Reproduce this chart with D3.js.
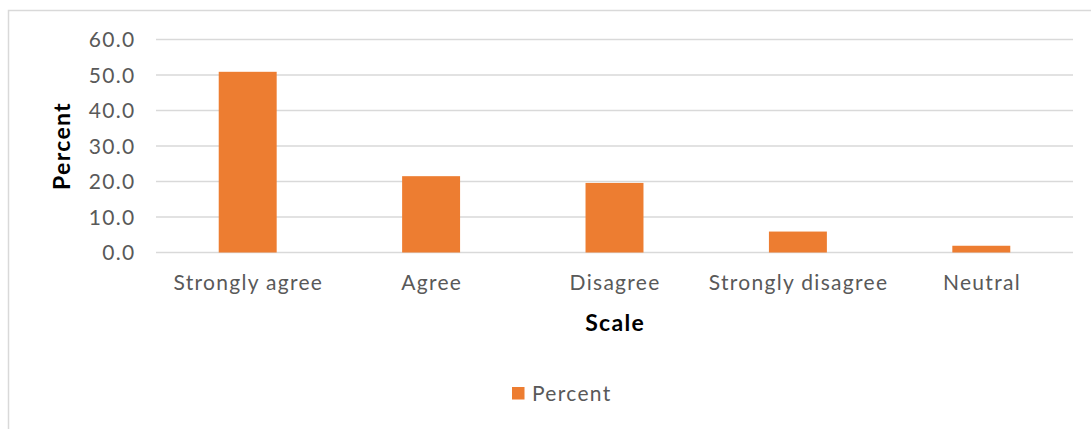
<!DOCTYPE html>
<html>
<head>
<meta charset="utf-8">
<script src="https://cdn.jsdelivr.net/npm/d3@7"></script>
<style>
  html, body { margin: 0; padding: 0; background: #fff; }
  svg { display: block; }
</style>
</head>
<body>
<svg id="chart" width="1091" height="429"></svg>
<script>
// Survey responses by scale
const categories = ["Strongly agree", "Agree", "Disagree", "Strongly disagree", "Neutral"];
const percentValues = [50.9, 21.5, 19.6, 5.9, 1.9];
const yTicks = [0, 10, 20, 30, 40, 50, 60];
const seriesName = "Percent";
const xTitle = "Scale";
const yTitle = "Percent";

const svg = d3.select("#chart");
const font = "Lato, 'Open Sans', 'Liberation Sans', sans-serif";
const barColor = "#ED7D31";
const gridColor = "#D9D9D9";
const textColor = "#595959";
const labelSize = "21px";
const labelSpacing = "1.3px";
const titleSize = "23px";
const titleSpacing = "1.3px";

// chart frame
svg.append("rect")
  .attr("x", 8.5).attr("y", 10.5)
  .attr("width", 1100).attr("height", 440)
  .attr("fill", "none").attr("stroke", gridColor).attr("stroke-width", 1.5);

const plot = { left: 156, right: 1073, top: 39.5, bottom: 252.5 };

const x = d3.scaleBand()
  .domain(categories)
  .range([plot.left, plot.right])
  .paddingInner(0.684)
  .paddingOuter(0.342);

const y = d3.scaleLinear()
  .domain([0, 60])
  .range([plot.bottom, plot.top]);

// gridlines
svg.append("g")
  .selectAll("line")
  .data(yTicks)
  .join("line")
  .attr("x1", plot.left).attr("x2", plot.right)
  .attr("y1", d => y(d)).attr("y2", d => y(d))
  .attr("stroke", gridColor).attr("stroke-width", 1.5);

// y axis labels
const yAxis = d3.axisLeft(y).tickValues(yTicks).tickFormat(d3.format(".1f")).tickSize(0).tickPadding(0);
const gy = svg.append("g").attr("transform", `translate(${plot.left - 20.5},0)`).call(yAxis);
gy.select(".domain").remove();
gy.selectAll("text")
  .attr("fill", textColor)
  .attr("font-family", font)
  .attr("font-size", labelSize)
  .attr("letter-spacing", labelSpacing)
  .attr("dy", "0.35em");

// bars
svg.append("g")
  .selectAll("rect")
  .data(categories.map((c, i) => ({ c, v: percentValues[i] })))
  .join("rect")
  .attr("x", d => x(d.c))
  .attr("width", x.bandwidth())
  .attr("y", d => y(d.v))
  .attr("height", d => y(0) - y(d.v))
  .attr("fill", barColor);

// x axis labels
const xAxis = d3.axisBottom(x).tickSize(0).tickPadding(0);
const gx = svg.append("g").attr("transform", `translate(0.6,${plot.bottom + 22})`).call(xAxis);
gx.select(".domain").remove();
gx.selectAll("text")
  .attr("fill", textColor)
  .attr("font-family", font)
  .attr("font-size", labelSize)
  .attr("letter-spacing", labelSpacing)
  .attr("dy", "0.75em");

// axis titles
svg.append("text")
  .attr("x", (plot.left + plot.right) / 2 + 0.6)
  .attr("y", 331)
  .attr("text-anchor", "middle")
  .attr("font-family", font)
  .attr("font-size", titleSize)
  .attr("letter-spacing", titleSpacing)
  .attr("font-weight", "bold")
  .attr("fill", "#000")
  .text(xTitle);

svg.append("text")
  .attr("transform", `translate(70,146) rotate(-90)`)
  .attr("text-anchor", "middle")
  .attr("font-family", font)
  .attr("font-size", titleSize)
  .attr("letter-spacing", titleSpacing)
  .attr("font-weight", "bold")
  .attr("fill", "#000")
  .text(yTitle);

// legend
const legend = svg.append("g").attr("transform", "translate(512,387)");
legend.append("rect").attr("width", 12.5).attr("height", 12.5).attr("fill", barColor);
legend.append("text")
  .attr("x", 20).attr("y", 6.5).attr("dy", "0.35em")
  .attr("font-family", font).attr("font-size", labelSize)
  .attr("letter-spacing", labelSpacing)
  .attr("fill", textColor)
  .text(seriesName);
</script>
</body>
</html>
